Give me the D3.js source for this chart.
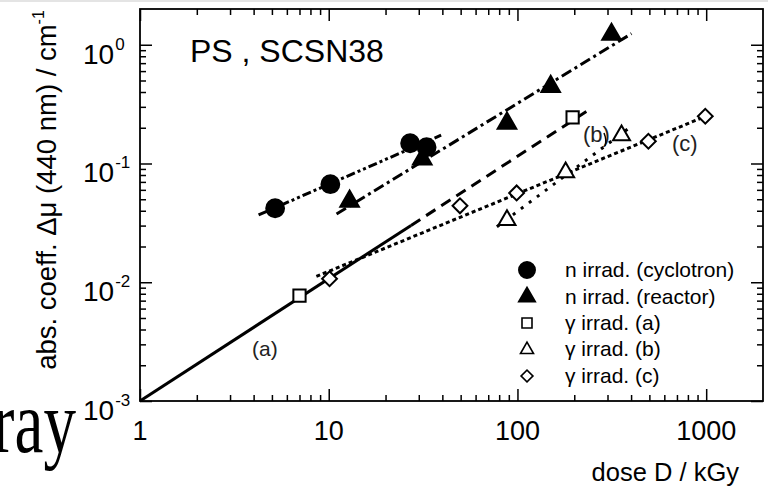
<!DOCTYPE html>
<html>
<head>
<meta charset="utf-8">
<script src="https://cdn.jsdelivr.net/npm/d3@7"></script>
<style>
  body { margin: 0; background: #fff; }
  svg { display: block; font-family: "Liberation Sans", Arial, sans-serif; }
</style>
</head>
<body>
<div id="chart"></div>
<script>
// data (dose in kGy, abs. coeff. in 1/cm)
const cycDose = [5.2, 10.2, 27, 33];
const cycMu = [0.042, 0.067, 0.148, 0.137];
const reaDose = [12.9, 31.3, 88, 150, 315];
const reaMu = [0.048, 0.109, 0.218, 0.445, 1.22];
const gaDose = [7.0, 196];
const gaMu = [0.0077, 0.245];
const gbDose = [88, 180, 356];
const gbMu = [0.034, 0.086, 0.176];
const gcDose = [10.1, 49.6, 99, 494, 989];
const gcMu = [0.0107, 0.044, 0.0565, 0.154, 0.25];

// fit lines: [dose, mu] endpoints
const cycFit = [[4.25, 0.0369], [39.4, 0.173]];
const reaFit = [[11.0, 0.0376], [402, 1.24]];
const aSolid = [[1, 0.001], [27.3, 0.0301]];
const aDashed = [[27.3, 0.0301], [233, 0.275]];
const bFit = [[77.8, 0.0293], [402, 0.206]];
const cFit = [[8.6, 0.0112], [989, 0.249]];

const xMajor = [1, 10, 100, 1000];
const yMajor = [0.001, 0.01, 0.1, 1];
const yExp = ["-3", "-2", "-1", "0"];

const legendLabels = ["n irrad. (cyclotron)", "n irrad. (reactor)", "\u03b3 irrad. (a)", "\u03b3 irrad. (b)", "\u03b3 irrad. (c)"];

const width = 768;
const height = 488;
const plotL = 140, plotR = 763, plotT = 9, plotB = 401;

const svg = d3.select("#chart")
    .append("svg")
    .attr("width", width)
    .attr("height", height);

const x = d3.scaleLog().domain([1, 2000]).range([plotL, plotR]);
const y = d3.scaleLog().domain([0.001, 2]).range([plotB, plotT]);

// faint strip at the very top
svg.append("rect").attr("x", 0).attr("y", 0).attr("width", width).attr("height", 2).attr("fill", "#e4e4e4");

// minor tick values
const minorX = [];
[1, 10, 100, 1000].forEach(d => { for (let k = 2; k <= 9; k++) if (d * k < 2000) minorX.push(d * k); });
const minorY = [];
[0.001, 0.01, 0.1, 1].forEach(d => { for (let k = 2; k <= 9; k++) if (d * k < 2) minorY.push(d * k); });

function tickAxis(axisFn, scale, vals, size, tr) {
    const g = svg.append("g")
        .attr("transform", tr)
        .call(axisFn(scale).tickValues(vals).tickSize(size).tickFormat("").tickSizeOuter(0));
    g.select(".domain").remove();
    g.selectAll("line").attr("stroke", "#000").attr("stroke-width", 1.5);
    return g;
}

tickAxis(d3.axisBottom, x, minorX, -6, `translate(0,${plotB})`);
tickAxis(d3.axisBottom, x, xMajor, -12, `translate(0,${plotB})`);
tickAxis(d3.axisTop, x, minorX, -6, `translate(0,${plotT})`);
tickAxis(d3.axisTop, x, xMajor, -12, `translate(0,${plotT})`);
tickAxis(d3.axisLeft, y, minorY, -6, `translate(${plotL},0)`);
tickAxis(d3.axisLeft, y, yMajor, -12, `translate(${plotL},0)`);
tickAxis(d3.axisRight, y, minorY, -6, `translate(${plotR},0)`);
tickAxis(d3.axisRight, y, yMajor, -12, `translate(${plotR},0)`);

svg.append("rect")
    .attr("x", plotL).attr("y", plotT)
    .attr("width", plotR - plotL).attr("height", plotB - plotT)
    .attr("fill", "none").attr("stroke", "#000").attr("stroke-width", 1.8);

// x tick labels
svg.selectAll(".xlab").data(xMajor).enter().append("text")
    .attr("x", d => x(d))
    .attr("y", plotB + 39)
    .attr("text-anchor", "middle")
    .attr("font-size", 27)
    .text(d => d);

// y tick labels 10^n
const yl = svg.selectAll(".ylab").data(yMajor).enter().append("text")
    .attr("x", 83)
    .attr("y", d => y(d) + 19)
    .attr("font-size", 28);
yl.append("tspan").text("10");
yl.append("tspan").attr("font-size", 17).attr("dy", -14).attr("dx", 1).text((d, i) => yExp[i]);

// axis titles
const yt = svg.append("text")
    .attr("transform", "translate(56,190) rotate(-90)")
    .attr("text-anchor", "middle")
    .attr("font-size", 27.5);
yt.append("tspan").text("abs. coeff. \u0394\u03bc (440 nm) / cm");
yt.append("tspan").attr("font-size", 16).attr("dy", -12).text("-1");

svg.append("text")
    .attr("x", 739).attr("y", 481)
    .attr("text-anchor", "end")
    .attr("font-size", 25.5)
    .text("dose D / kGy");

svg.append("text")
    .attr("x", 190).attr("y", 62)
    .attr("font-size", 32)
    .text("PS , SCSN38");

// leftover text of the slide behind the chart, squeezed horizontally
svg.append("text")
    .attr("transform", "translate(76,452) scale(0.74,1)")
    .attr("text-anchor", "end")
    .attr("font-family", "Liberation Serif, Times New Roman, serif")
    .attr("font-size", 88)
    .text("ray");

// fit lines
const line = d3.line().x(d => x(d[0])).y(d => y(d[1]));
const fits = [
    { pts: cycFit, dash: "9,3,3,3,3,3" },
    { pts: reaFit, dash: "11,4,3,4" },
    { pts: aSolid, dash: null },
    { pts: aDashed, dash: "11,7" },
    { pts: bFit, dash: "3,7" },
    { pts: cFit, dash: "4,3" }
];
fits.forEach(f => {
    svg.append("path")
        .attr("d", line(f.pts))
        .attr("fill", "none")
        .attr("stroke", "#000")
        .attr("stroke-width", 3)
        .attr("stroke-dasharray", f.dash);
});

// markers
function marker(sel, type, size) {
    const sym = {
        circle: d3.symbolCircle,
        triangle: d3.symbolTriangle,
        square: d3.symbolSquare,
        diamond: d3.symbolSquare
    }[type];
    return sel.append("path")
        .attr("d", d3.symbol().type(sym).size(size))
        .attr("fill", type === "circle" || type === "triangle" ? "#000" : "#fff")
        .attr("stroke", "#000")
        .attr("stroke-width", 2);
}

function openTri(sel, s) {
    const h = s * 0.87;
    return sel.append("path")
        .attr("d", `M0,${-h * 0.6}L${s / 2},${h * 0.4}L${-s / 2},${h * 0.4}Z`)
        .attr("fill", "#fff").attr("stroke", "#000").attr("stroke-width", 2);
}

function plotSeries(dose, mu, draw) {
    dose.forEach((d, i) => {
        const g = svg.append("g").attr("transform", `translate(${x(d)},${y(mu[i])})`);
        draw(g);
    });
}

plotSeries(cycDose, cycMu, g => marker(g, "circle", 250));
plotSeries(reaDose, reaMu, g => marker(g, "triangle", 150));
plotSeries(gaDose, gaMu, g => marker(g, "square", 150));
plotSeries(gbDose, gbMu, g => openTri(g, 17));
plotSeries(gcDose, gcMu, g => marker(g, "diamond", 110).attr("transform", "rotate(45)"));

// curve labels
svg.append("text").attr("x", 252).attr("y", 356).attr("font-size", 21).attr("fill", "#222").text("(a)");
svg.append("text").attr("x", 583).attr("y", 142).attr("font-size", 22).attr("fill", "#222").text("(b)");
svg.append("path").attr("d", "M604,133 Q607,140 605,146").attr("fill", "none").attr("stroke", "#000").attr("stroke-width", 1.5);
svg.append("text").attr("x", 672).attr("y", 151).attr("font-size", 22).attr("fill", "#222").text("(c)");

// legend
const rowY = [270, 297, 323, 349, 376];
const legDraw = [
    g => marker(g, "circle", 200),
    g => marker(g, "triangle", 110),
    g => marker(g, "square", 100).attr("stroke-width", 1.6),
    g => openTri(g, 13).attr("stroke-width", 1.6),
    g => marker(g, "diamond", 70).attr("stroke-width", 1.6).attr("transform", "rotate(45)")
];
legendLabels.forEach((lab, i) => {
    const g = svg.append("g").attr("transform", `translate(527,${rowY[i]})`);
    legDraw[i](g);
    svg.append("text")
        .attr("x", 565).attr("y", rowY[i] + 7)
        .attr("font-size", 21)
        .text(lab);
});
</script>
</body>
</html>
